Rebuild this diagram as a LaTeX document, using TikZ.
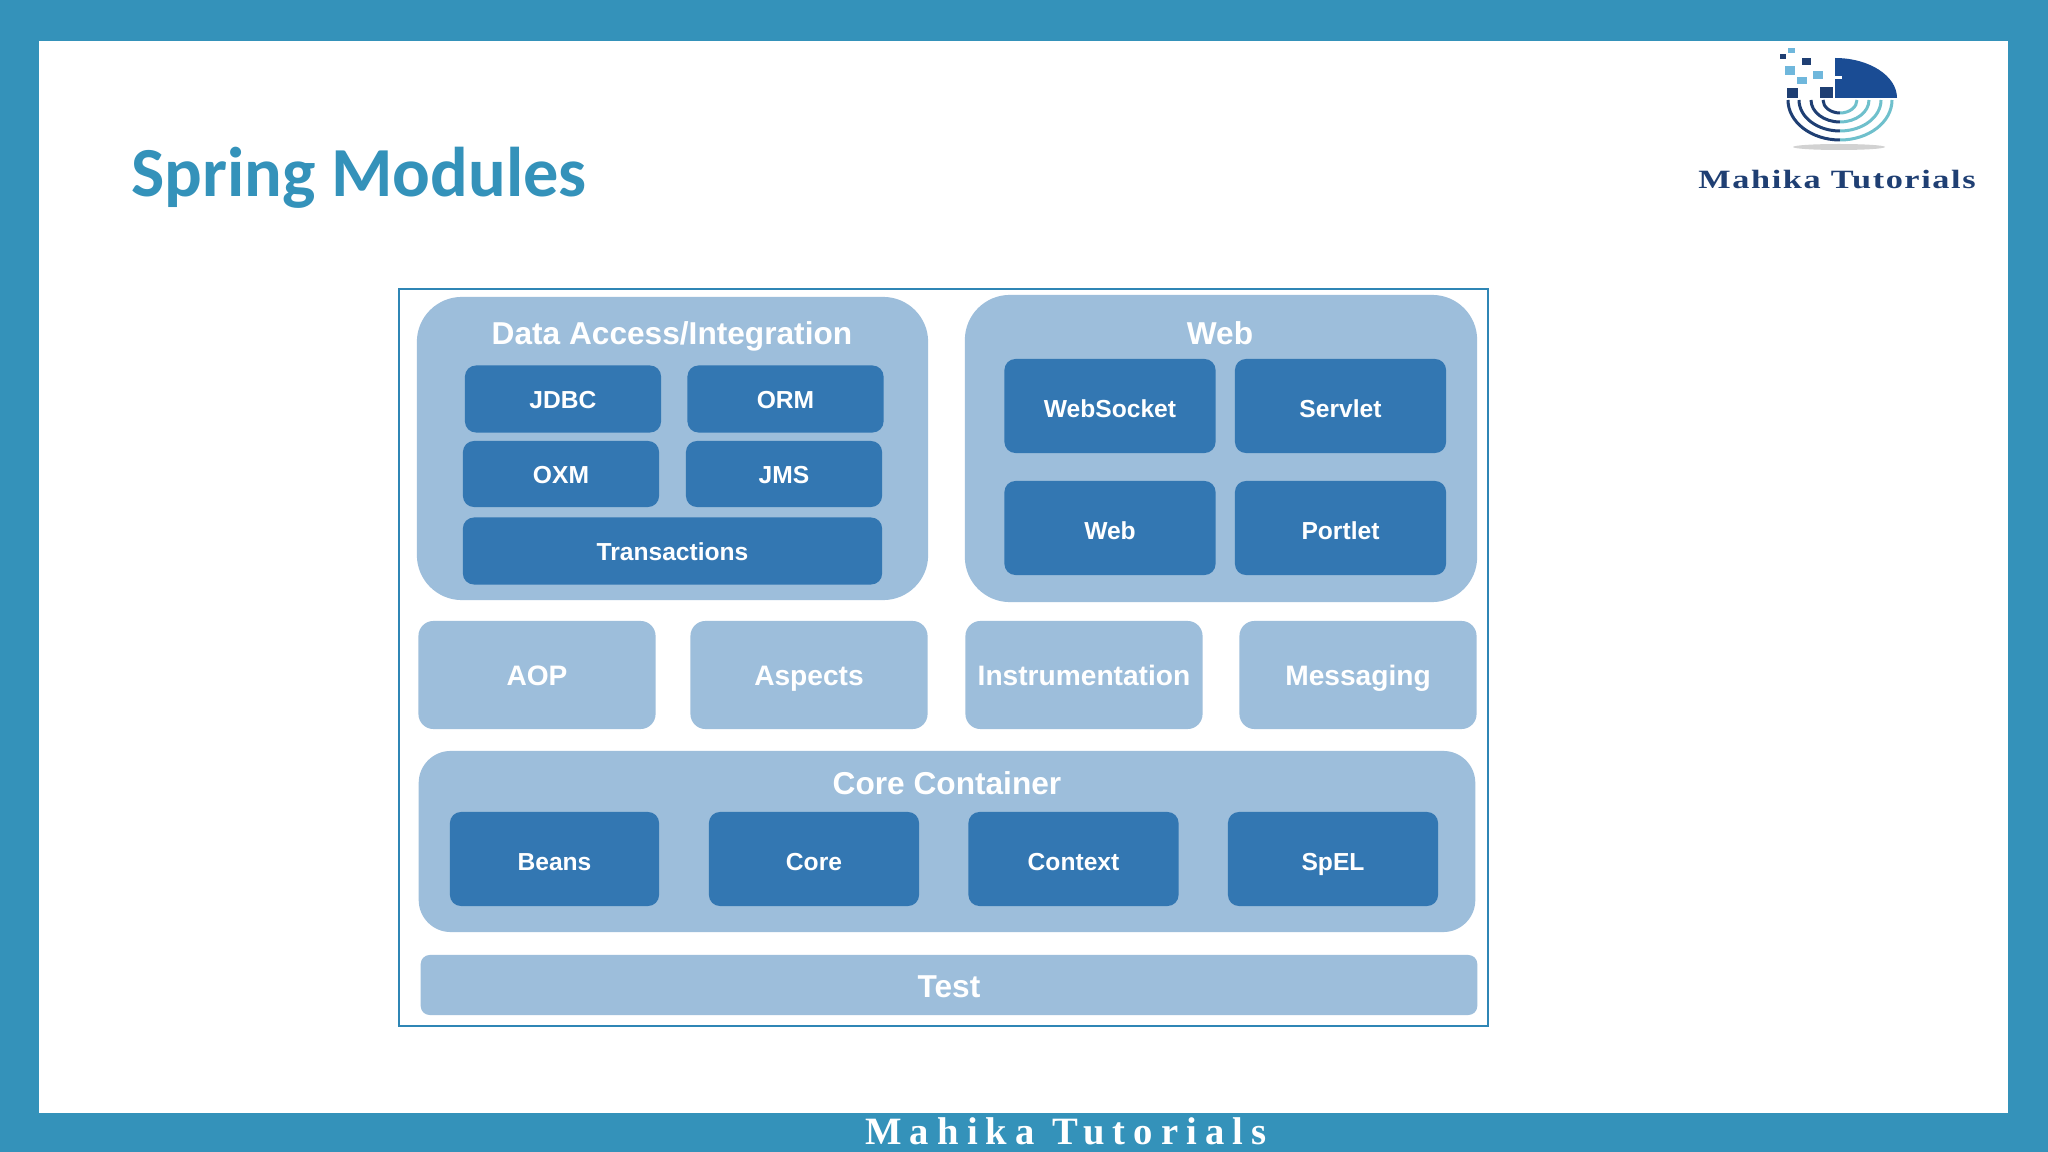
\documentclass[tikz,border=0pt]{standalone}
\usepackage{fontspec}
\setmainfont{Liberation Sans}
\newfontfamily\titlefont{Carlito}
\newfontfamily\footfont{Liberation Serif}[LetterSpace=21]
\newfontfamily\logofont{Liberation Serif}[FakeStretch=1.3,LetterSpace=6]
\definecolor{framecol}{HTML}{3492BA}
\definecolor{linecol}{HTML}{2F86B5}
\definecolor{groupcol}{HTML}{9DBEDB}
\definecolor{modcol}{HTML}{3377B2}
\definecolor{logonavy}{HTML}{1A4C94}
\definecolor{logodark}{HTML}{1F3F73}
\definecolor{logolight}{HTML}{6FB7DC}
\definecolor{logoteal}{HTML}{6FC0CC}
\tikzset{
    groupbox/.style={fill=groupcol, rounded corners=4.5mm, inner sep=0pt},
    flatbox/.style={fill=groupcol, rounded corners=1.5mm, inner sep=0pt, text=white, text height=7.2pt, text depth=1.5pt, font=\fontsize{8}{9}\selectfont\bfseries},
    modbox/.style={fill=modcol, rounded corners=1.1mm, inner sep=0pt, text=white, text height=7pt, text depth=1.5pt, font=\fontsize{7}{8}\selectfont\bfseries},
    grouptitle/.style={text=white, inner sep=0pt, font=\fontsize{9}{10}\selectfont\bfseries},
    smallmod/.style={modbox, minimum width=1.96cm, minimum height=0.67cm},
    webmod/.style={modbox, text height=8pt, minimum width=2.11cm, minimum height=0.94cm},
    midbox/.style={flatbox, minimum width=2.37cm, minimum height=1.08cm}
}
\begin{document}
\begin{tikzpicture}[x=0.01cm, y=-0.01cm]
    \fill[framecol] (0, 0) rectangle (2048, 1152);
    \fill[white] (39, 41) rectangle (2008, 1113);
    \useasboundingbox (0, 0) rectangle (2048, 1152);

    \node[text=framecol, inner sep=0pt, font=\fontsize{20}{22}\selectfont\titlefont\bfseries] (title) at (359, 178) {Spring Modules};
    \node[text=white, inner sep=0pt, font=\fontsize{11}{12}\selectfont\footfont\bfseries] (foot) at (1066, 1131) {Mahika Tutorials};

    % logo
    \fill[logonavy] (1835, 58) arc [start angle=-90, end angle=0, x radius=62, y radius=40] -- (1835, 98) -- cycle;
    \fill[white] (1835, 76) rectangle (1842, 79);
    \foreach \sx/\sy/\sw/\sh/\scol in {1788/48/7/5/logolight, 1780/54/6/5/logodark, 1802/58/9/7/logodark, 1785/66/10/9/logolight, 1813/71/10/8/logolight, 1797/77/10/7/logolight, 1787/88/11/10/logodark, 1820/87/13/11/logodark}
        \fill[\scol] (\sx, \sy) rectangle ++(\sw, \sh);
    \foreach \rx/\ry in {52/40, 41/31, 29/22, 17/13} {
        \draw[logodark, line width=0.3mm] (1840, 100) ++(-\rx, 0) arc [start angle=180, end angle=90, x radius=\rx, y radius=\ry];
        \draw[logoteal, line width=0.3mm] (1840, 100) ++(\rx, 0) arc [start angle=0, end angle=90, x radius=\rx, y radius=\ry];
    }
    \fill[gray!35] (1839, 147) ellipse [x radius=46, y radius=3];
    \node[text=logodark, inner sep=0pt, font=\fontsize{7.5}{8}\selectfont\logofont\bfseries] (logotext) at (1837, 180) {Mahika Tutorials};

    % frame
    \node[draw=linecol, line width=0.2mm, minimum width=10.89cm, minimum height=7.37cm, inner sep=0pt] (frame) at (943.5, 657.5) {};

    % data access
    \node[groupbox, minimum width=5.11cm, minimum height=3.03cm] (dai) at (672.5, 448.5) {};
    \node[grouptitle] (daititle) at (672, 336) {Data Access/Integration};
    \node[smallmod] (jdbc) at (563, 399) {JDBC};
    \node[smallmod] (orm) at (785.5, 399) {ORM};
    \node[smallmod, minimum height=0.66cm] (oxm) at (561, 474) {OXM};
    \node[smallmod, minimum height=0.66cm] (jms) at (784, 474) {JMS};
    \node[modbox, minimum width=4.19cm, minimum height=0.67cm] (trans) at (672.5, 551) {Transactions};

    % web
    \node[groupbox, minimum width=5.12cm, minimum height=3.07cm] (webgroup) at (1221, 448.5) {};
    \node[grouptitle] (webtitle) at (1220, 333) {Web};
    \node[webmod] (websocket) at (1110, 406) {WebSocket};
    \node[webmod] (servlet) at (1340.5, 406) {Servlet};
    \node[webmod] (webmodule) at (1110, 528) {Web};
    \node[webmod] (portlet) at (1340.5, 528) {Portlet};

    % middle row
    \node[midbox] (aop) at (537, 675) {AOP};
    \node[midbox] (aspects) at (809, 675) {Aspects};
    \node[midbox] (instr) at (1084, 675) {Instrumentation};
    \node[midbox] (msg) at (1358, 675) {Messaging};

    % core container
    \node[groupbox, rounded corners=3.2mm, minimum width=10.56cm, minimum height=1.81cm] (coregroup) at (947, 841.5) {};
    \node[grouptitle] (coretitle) at (947, 783) {Core Container};
    \node[webmod, minimum width=2.09cm] (beans) at (554.5, 859) {Beans};
    \node[webmod, minimum width=2.1cm] (core) at (814, 859) {Core};
    \node[webmod, minimum width=2.1cm] (context) at (1073.5, 859) {Context};
    \node[webmod, minimum width=2.1cm] (spel) at (1333, 859) {SpEL};

    % test
    \node[flatbox, rounded corners=0.9mm, font=\fontsize{9}{10}\selectfont\bfseries, text height=8.5pt, minimum width=10.56cm, minimum height=0.6cm] (test) at (949, 985) {Test};
\end{tikzpicture}
\end{document}
